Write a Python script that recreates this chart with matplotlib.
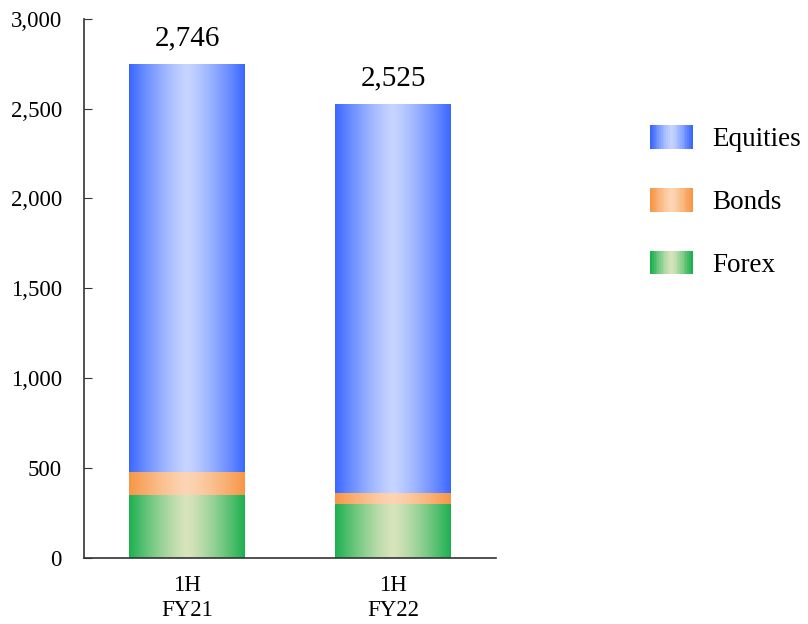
import matplotlib
matplotlib.use('Agg')
import matplotlib.pyplot as plt
import numpy as np
from matplotlib.colors import to_rgb
from matplotlib.legend_handler import HandlerBase
from matplotlib.patches import Rectangle

plt.rcParams['font.family'] = ['Liberation Serif', 'DejaVu Serif']

# data
periods = ['1H\nFY21', '1H\nFY22']
forex = [350, 300]
bonds = [130, 62]
equities = [2266, 2163]
totals = [2746, 2525]
yticks = [0, 500, 1000, 1500, 2000, 2500, 3000]

# edge colour, centre colour
styles = {
    'Equities': ('#3a68ff', '#c6d4ff'),
    'Bonds': ('#f79646', '#fcd5b5'),
    'Forex': ('#1db050', '#d8e4bc'),
}


def gradient(edge, centre, n=200):
    u = np.linspace(0, 1, n)
    t = np.abs(2 * u - 1) ** 1.3
    e = np.array(to_rgb(edge))
    c = np.array(to_rgb(centre))
    return (c[None, :] + (e - c)[None, :] * t[:, None])[None, :, :]


class GradHandler(HandlerBase):
    def __init__(self, edge, centre):
        super().__init__()
        self.edge, self.centre = edge, centre

    def create_artists(self, legend, orig_handle, xdescent, ydescent,
                       width, height, fontsize, trans):
        cols = gradient(self.edge, self.centre, 24)[0]
        n = len(cols)
        arts = []
        for i, col in enumerate(cols):
            r = Rectangle((-xdescent + width * i / n, -ydescent), width / n + 0.3, height,
                          facecolor=col, edgecolor='none', transform=trans)
            arts.append(r)
        return arts


fig = plt.figure(figsize=(8.08, 6.24), dpi=100)
ax = fig.add_axes([0.104, 0.106, 0.51, 0.864])

x = np.arange(len(periods))
width = 0.56
bottoms = np.zeros(len(periods))
handles = {}
for name, vals in [('Forex', forex), ('Bonds', bonds), ('Equities', equities)]:
    bars = ax.bar(x, vals, width, bottom=bottoms, facecolor='none', edgecolor='none', label=name)
    edge, centre = styles[name]
    img = gradient(edge, centre)
    for rect in bars:
        bx, by = rect.get_x(), rect.get_y()
        bw, bh = rect.get_width(), rect.get_height()
        im = ax.imshow(img, extent=(bx, bx + bw, by, by + bh), aspect='auto',
                       interpolation='bilinear', zorder=2)
        im.set_clip_path(rect)
    handles[name] = bars
    bottoms = bottoms + np.array(vals)

for xi, tot in zip(x, totals):
    ax.annotate(f'{tot:,}', (xi, tot), xytext=(0, 9), textcoords='offset points',
                ha='center', va='bottom', fontsize=21)

ax.set_xlim(-0.5, 1.5)
ax.set_ylim(0, 3000)
ax.set_yticks(yticks)
ax.set_yticklabels([f'{v:,}' for v in yticks], fontsize=16.5)
ax.set_xticks(x)
ax.set_xticklabels(periods, fontsize=16.5, linespacing=1.3)
ax.tick_params(axis='y', direction='in', length=6, pad=16, color='#333333')
ax.tick_params(axis='x', length=0, pad=12)
for s in ['top', 'right']:
    ax.spines[s].set_visible(False)
for s in ['left', 'bottom']:
    ax.spines[s].set_color('#333333')
    ax.spines[s].set_linewidth(1.2)

order = ['Equities', 'Bonds', 'Forex']
fig.legend([handles[n] for n in order], order, loc='upper left',
           bbox_to_anchor=(0.795, 0.812), frameon=False, fontsize=19.5,
           handlelength=1.55, handleheight=0.95, handletextpad=0.75, labelspacing=1.32,
           borderpad=0.3, borderaxespad=0,
           handler_map={handles[n]: GradHandler(*styles[n]) for n in order})

fig.savefig('out.png', dpi=100)
